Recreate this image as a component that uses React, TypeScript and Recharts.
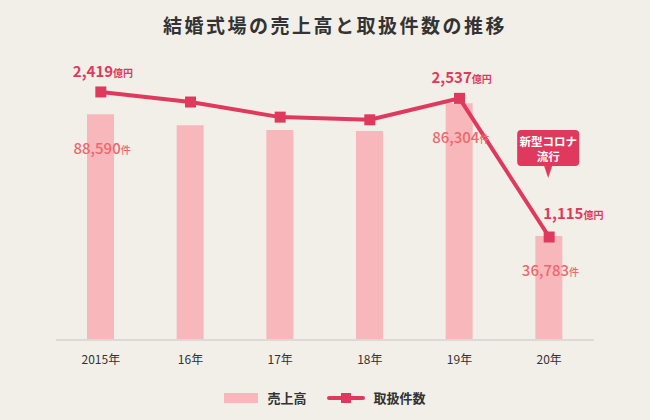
import {
  ComposedChart,
  Bar,
  Line,
  XAxis,
  YAxis,
  LabelList,
} from 'recharts';

const YEARS = ['2015年', '16年', '17年', '18年', '19年', '20年'];
// 売上高 (億円) drawn as bars
const SALES = [2419, 2301, 2250, 2240, 2537, 1115];
// 取扱件数 (件) drawn as line
const COUNTS = [88590, 84990, 79600, 78640, 86304, 36783];
// which years carry value labels
const LABELED = [0, 4, 5];
const NOTE_INDEX = 5;
const NOTE_LINES = ['新型コロナ', '流行'];

const BG = '#f2efe9';
const BAR = '#f7b7bb';
const LINE = '#df3a5d';
const COUNT_TEXT = '#f0666c';
const FONT = '"Noto Sans CJK JP", "Noto Sans", sans-serif';

const data = YEARS.map((year, i) => ({
  year,
  sales: SALES[i],
  count: COUNTS[i],
}));

const fmt = (v: number) => v.toLocaleString('en-US');

function SalesLabel(props: any) {
  const { x, y, index, value } = props;
  if (!LABELED.includes(index)) return null;
  const last = index === YEARS.length - 1;
  return (
    <text
      x={last ? x - 6 : x - 28}
      y={last ? y - 18 : y - 15}
      fill={LINE}
      fontFamily={FONT}
      fontWeight={700}
    >
      <tspan fontSize={15}>{fmt(value)}</tspan>
      <tspan fontSize={10}>億円</tspan>
    </text>
  );
}

function CountLabel(props: any) {
  const { x, y, width, index, value } = props;
  if (!LABELED.includes(index)) return null;
  const cx = x + width / 2;
  return (
    <text x={cx - 27} y={y + 40} fill={COUNT_TEXT} fontFamily={FONT} fontWeight={500}>
      <tspan fontSize={15}>{fmt(value)}</tspan>
      <tspan fontSize={10}>件</tspan>
    </text>
  );
}

function NoteBubble(props: any) {
  const { x, y, index } = props;
  if (index !== NOTE_INDEX) return null;
  const w = 62;
  const h = 36;
  const left = x - 32;
  const top = y - 107;
  const tipY = y - 59;
  const mid = left + w / 2;
  return (
    <g>
      <rect x={left} y={top} width={w} height={h} rx={4} fill={LINE} />
      <path d={`M${mid - 4},${top + h} L${mid + 4},${top + h} L${mid},${tipY} Z`} fill={LINE} />
      {NOTE_LINES.map((t, i) => (
        <text
          key={t}
          x={mid}
          y={top + 16 + i * 15}
          textAnchor="middle"
          fill="#fff"
          fontSize={11.5}
          fontWeight={700}
          fontFamily={FONT}
        >
          {t}
        </text>
      ))}
    </g>
  );
}

export default function App() {
  return (
    <div
      style={{
        position: 'relative',
        width: 650,
        height: 420,
        background: BG,
        fontFamily: FONT,
        overflow: 'hidden',
      }}
    >
      <style>{'body{margin:0}'}</style>
      <div
        style={{
          position: 'absolute',
          top: 12,
          left: 10,
          width: 650,
          textAlign: 'center',
          fontSize: 19,
          fontWeight: 700,
          letterSpacing: 2.5,
          color: '#333',
          lineHeight: '26px',
        }}
      >
        結婚式場の売上高と取扱件数の推移
      </div>

      <ComposedChart
        width={650}
        height={420}
        data={data}
        margin={{ top: 60, right: 56, bottom: 50, left: 56 }}
      >
        <XAxis
          dataKey="year"
          axisLine={{ stroke: '#dcdad6', strokeWidth: 2 }}
          tickLine={false}
          tickMargin={9}
          tick={{ fontSize: 12, fill: '#333', fontFamily: FONT }}
        />
        <YAxis yAxisId="sales" domain={[0, 3000]} hide />
        <YAxis yAxisId="count" domain={[0, 100000]} hide />
        <Bar
          yAxisId="sales"
          dataKey="sales"
          fill={BAR}
          barSize={27}
          isAnimationActive={false}
        >
          <LabelList dataKey="count" content={<CountLabel />} />
        </Bar>
        <Line
          yAxisId="count"
          dataKey="count"
          stroke={LINE}
          strokeWidth={4}
          isAnimationActive={false}
          dot={(p: any) => (
            <rect
              key={`d${p.index}`}
              x={p.cx - 5.5}
              y={p.cy - 5.5}
              width={11}
              height={11}
              fill={LINE}
            />
          )}
        >
          <LabelList dataKey="sales" content={<SalesLabel />} />
          <LabelList dataKey="count" content={<NoteBubble />} />
        </Line>
      </ComposedChart>

      <div
        style={{
          position: 'absolute',
          top: 388,
          left: 0,
          width: 650,
          display: 'flex',
          justifyContent: 'center',
          alignItems: 'center',
          fontSize: 13,
          fontWeight: 700,
          color: '#333',
        }}
      >
        <span style={{ display: 'inline-block', width: 34, height: 10, background: BAR, marginRight: 9 }} />
        <span style={{ marginRight: 20 }}>売上高</span>
        <span style={{ position: 'relative', display: 'inline-block', width: 38, height: 10, marginRight: 9 }}>
          <span
            style={{
              position: 'absolute',
              left: 0,
              top: 3,
              width: 38,
              height: 4,
              borderRadius: 2,
              background: LINE,
            }}
          />
          <span
            style={{
              position: 'absolute',
              left: 14,
              top: 0,
              width: 10,
              height: 10,
              background: LINE,
            }}
          />
        </span>
        <span>取扱件数</span>
      </div>
    </div>
  );
}
